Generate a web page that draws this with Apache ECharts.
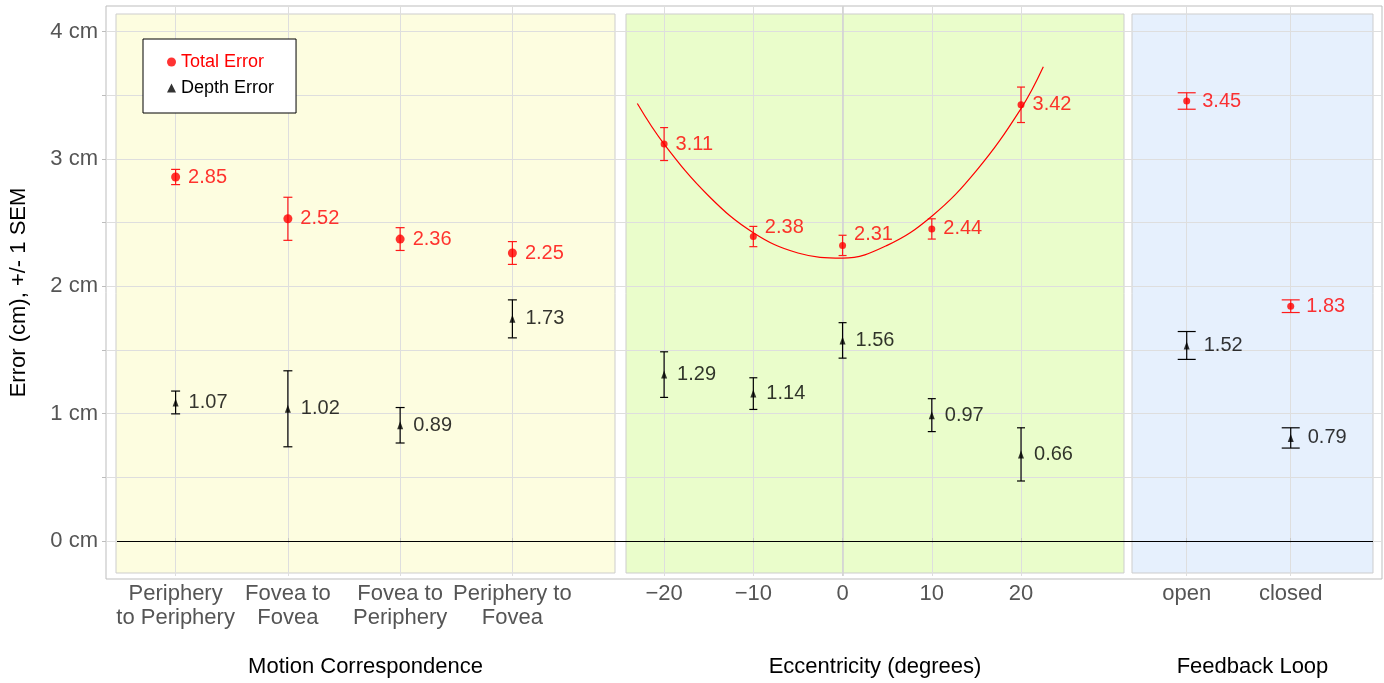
<!DOCTYPE html>
<html><head><meta charset="utf-8">
<script src="https://cdn.jsdelivr.net/npm/echarts@6/dist/echarts.min.js"></script>
<style>html,body{margin:0;padding:0;background:#fff}#c{width:1384px;height:683px}</style>
</head><body><div id="c"></div>
<script>
// ---------------- data ----------------
const motionCategories = ['Periphery\nto Periphery', 'Fovea to\nFovea', 'Fovea to\nPeriphery', 'Periphery to\nFovea'];
const motionTotal    = [2.85, 2.52, 2.36, 2.25];
const motionTotalSem = [0.06, 0.17, 0.09, 0.09];
const motionDepth    = [1.07, 1.02, 0.89, 1.73];
const motionDepthSem = [0.09, 0.30, 0.14, 0.15];

const eccentricity = [-20, -10, 0, 10, 20];
const eccTotal     = [3.11, 2.38, 2.31, 2.44, 3.42];
const eccTotalSem  = [0.13, 0.08, 0.08, 0.08, 0.14];
const eccDepth     = [1.29, 1.14, 1.56, 0.97, 0.66];
const eccDepthSem  = [0.18, 0.125, 0.14, 0.13, 0.21];
// quadratic fit curve through Total Error
const eccFitX = [-23, -20, -15, -10, -5, 0, 5, 10, 15, 20, 22.5];
const eccFitY = [3.43, 3.11, 2.70, 2.41, 2.25, 2.21, 2.31, 2.54, 2.90, 3.39, 3.72];

const feedbackCategories = ['open', 'closed'];
const feedbackTotal    = [3.45, 1.83];
const feedbackTotalSem = [0.065, 0.05];
const feedbackDepth    = [1.52, 0.79];
const feedbackDepthSem = [0.11, 0.08];

const yTickValues  = [0, 1, 2, 3, 4];
const yMinorValues = [0, 0.5, 1, 1.5, 2, 2.5, 3, 3.5, 4];

// ---------------- layout / style ----------------
const FONT = "'Liberation Sans', Arial, Helvetica, sans-serif";
const RED = '#ff0000', BLACK = '#000000';
const frame = {left: 105, top: 6, right: 1382, bottom: 579};
const panelTop = 14, panelBottom = 573;
const panels = [
  {x0: 116, x1: 615, bg: '#fdfde0', min: -0.531, max: 3.914, ticks: [0,1,2,3],
   fmt: v => motionCategories[Math.round(v)], name: 'Motion Correspondence', cap: 4.5, dot: 9, tri: [6,8], dist: 8},
  {x0: 626, x1: 1124, bg: '#eafdcb', min: -24.27, max: 31.54, ticks: eccentricity,
   fmt: v => (v < 0 ? '\u2212' + (-v) : String(v)), name: 'Eccentricity (degrees)', cap: 4, dot: 7, tri: [6,8], dist: 8},
  {x0: 1132, x1: 1373, bg: '#e6f0fd', min: -0.526, max: 1.791, ticks: [0,1],
   fmt: v => feedbackCategories[Math.round(v)], name: 'Feedback Loop', cap: 9, dot: 7, tri: [6,8], dist: 12}
];
const yMin = -0.3, yMax = 4.2;

const grids = [], xAxes = [], yAxes = [], series = [];
// frame grid (0)
grids.push({left: frame.left, top: frame.top, width: frame.right - frame.left, height: frame.bottom - frame.top,
  show: true, backgroundColor: 'transparent', borderColor: '#bdbdbd', borderWidth: 1});
xAxes.push({gridIndex: 0, type: 'value', min: 0, max: 1, show: false});
yAxes.push({gridIndex: 0, type: 'value', min: yMin, max: yMax, z: 1,
  name: 'Error (cm), +/- 1 SEM', nameLocation: 'middle', nameGap: 76,
  nameTextStyle: {fontFamily: FONT, fontSize: 22, color: '#000'},
  axisLine: {show: false},
  axisTick: {show: true, length: 4, customValues: yMinorValues, lineStyle: {color: '#bdbdbd'}},
  axisLabel: {customValues: yTickValues, formatter: v => v + ' cm', margin: 8,
    fontFamily: FONT, fontSize: 22, color: '#555'},
  splitLine: {show: true, lineStyle: {color: '#dedede', width: 1}}
});

function errorBarRender(capHalf, color) {
  return function (params, api) {
    const x = api.value(0), lo = api.value(1), hi = api.value(2);
    const a = api.coord([x, lo]), b = api.coord([x, hi]);
    const style = {stroke: color, lineWidth: 1.2, fill: null};
    return {type: 'group', children: [
      {type: 'line', shape: {x1: a[0], y1: a[1], x2: b[0], y2: b[1]}, style},
      {type: 'line', shape: {x1: a[0] - capHalf, y1: a[1], x2: a[0] + capHalf, y2: a[1]}, style},
      {type: 'line', shape: {x1: b[0] - capHalf, y1: b[1], x2: b[0] + capHalf, y2: b[1]}, style}
    ]};
  };
}

const panelData = [
  {xs: [0,1,2,3], total: motionTotal, totalSem: motionTotalSem, depth: motionDepth, depthSem: motionDepthSem},
  {xs: eccentricity, total: eccTotal, totalSem: eccTotalSem, depth: eccDepth, depthSem: eccDepthSem},
  {xs: [0,1], total: feedbackTotal, totalSem: feedbackTotalSem, depth: feedbackDepth, depthSem: feedbackDepthSem}
];
// label lifts (style) for labels that sit next to the fit curve in the eccentricity panel
const labelLift = [[], [0, -9, -11, 0, 0], []];

panels.forEach((p, i) => {
  const g = grids.length; // data grid index
  grids.push({left: p.x0, top: frame.top, width: p.x1 - p.x0, height: frame.bottom - frame.top, show: false});
  xAxes.push({gridIndex: g, type: 'value', min: p.min, max: p.max, z: 1,
    name: p.name, nameLocation: 'middle', nameGap: 80,
    nameTextStyle: {fontFamily: FONT, fontSize: 22, color: '#000'},
    axisLine: {show: false},
    axisTick: {show: true, length: 5, customValues: p.ticks, lineStyle: {color: '#c8c8c8'}},
    axisLabel: {customValues: p.ticks, formatter: p.fmt, margin: 6, lineHeight: 24,
      fontFamily: FONT, fontSize: 22, color: '#555'},
    splitLine: {show: true, lineStyle: {color: '#dedede', width: 1}}
  });
  yAxes.push({gridIndex: g, type: 'value', min: yMin, max: yMax, show: false});

  const d = panelData[i];
  const common = {xAxisIndex: g, yAxisIndex: g};
  if (i === 1) {
    // slightly stronger vertical line at 0 (drawn under the marks)
    series.push(Object.assign({type: 'line', name: 'axis0', showSymbol: false, data: [], silent: true, z: 1,
      markLine: {silent: true, symbol: 'none', label: {show: false}, z: 1,
        lineStyle: {color: '#d2d2d2', width: 1.6, type: 'solid'}, data: [{xAxis: 0}]}}, common));
    // fit curve
    series.push(Object.assign({type: 'line', name: 'fit', smooth: 0.4, showSymbol: false, z: 3,
      data: eccFitX.map((x, k) => [x, eccFitY[k]]),
      lineStyle: {color: RED, width: 1.2}, itemStyle: {color: RED}, silent: true}, common));
  }
  series.push(Object.assign({type: 'custom', name: 'Total SEM', z: 3,
    renderItem: errorBarRender(p.cap, '#ff1a1a'), encode: {x: 0, y: [1, 2]},
    data: d.xs.map((x, k) => [x, d.total[k] - d.totalSem[k], d.total[k] + d.totalSem[k]])}, common));
  series.push(Object.assign({type: 'custom', name: 'Depth SEM', z: 3,
    renderItem: errorBarRender(p.cap, '#000000'), encode: {x: 0, y: [1, 2]},
    data: d.xs.map((x, k) => [x, d.depth[k] - d.depthSem[k], d.depth[k] + d.depthSem[k]])}, common));
  series.push(Object.assign({type: 'scatter', name: 'Total Error', symbol: 'circle', symbolSize: p.dot, z: 4,
    itemStyle: {color: RED},
    data: d.xs.map((x, k) => {
      const item = {value: [x, d.total[k]]};
      if (labelLift[i][k]) item.label = {offset: [0, labelLift[i][k]]};
      return item;
    }),
    label: {show: true, position: 'right', distance: p.dist, color: RED, fontFamily: FONT, fontSize: 20,
      formatter: q => q.value[1].toFixed(2)}}, common));
  series.push(Object.assign({type: 'scatter', name: 'Depth Error', symbol: 'triangle', symbolSize: p.tri, z: 4,
    itemStyle: {color: BLACK},
    data: d.xs.map((x, k) => [x, d.depth[k]]),
    label: {show: true, position: 'right', distance: p.dist + 2, color: '#000', fontFamily: FONT, fontSize: 20,
      formatter: q => q.value[1].toFixed(2)}}, common));
});

// panel background grids
panels.forEach(p => {
  const g = grids.length;
  grids.push({left: p.x0, top: panelTop, width: p.x1 - p.x0, height: panelBottom - panelTop,
    show: true, backgroundColor: p.bg, borderColor: '#cdcdcd', borderWidth: 1});
  xAxes.push({gridIndex: g, type: 'value', min: 0, max: 1, show: false});
  yAxes.push({gridIndex: g, type: 'value', min: 0, max: 1, show: false});
});

// zero line across the panels (frame grid)
const fw = frame.right - frame.left;
series.push({type: 'line', name: 'zero', xAxisIndex: 0, yAxisIndex: 0, data: [], silent: true, z: 3,
  markLine: {silent: true, symbol: 'none', label: {show: false}, lineStyle: {color: '#000', width: 1, type: 'solid'},
    data: [[{coord: [(panels[0].x0 - frame.left) / fw, 0]}, {coord: [(panels[2].x1 - frame.left) / fw, 0]}]]}});

const option = {
  animation: false,
  backgroundColor: '#fff',
  textStyle: {fontFamily: FONT},
  legend: {
    orient: 'vertical', left: 143, top: 39, padding: [14, 22, 16, 24], itemGap: 8,
    itemWidth: 9, itemHeight: 9, backgroundColor: '#fff', borderColor: '#000', borderWidth: 1, z: 10,
    textStyle: {fontSize: 18, fontFamily: FONT, color: '#000'},
    data: [{name: 'Total Error', icon: 'circle', textStyle: {color: RED}},
           {name: 'Depth Error', icon: 'triangle'}]
  },
  grid: grids, xAxis: xAxes, yAxis: yAxes, series: series
};
const chart = echarts.init(document.getElementById('c'), null, {renderer: 'canvas'});
chart.setOption(option);
</script></body></html>
